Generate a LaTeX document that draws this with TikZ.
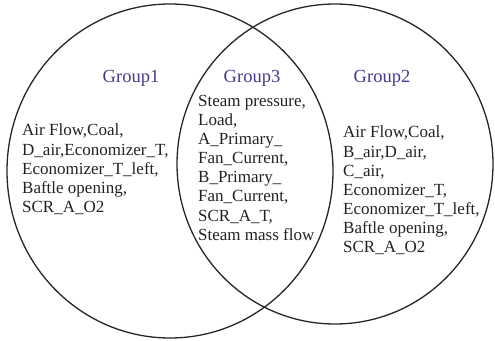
\documentclass[tikz,border=0pt]{standalone}
\usepackage{fontspec}
\setmainfont{Liberation Serif}
\definecolor{grp}{HTML}{4A3890}
\definecolor{txt}{HTML}{222222}
\begin{document}
\begin{tikzpicture}[x=1pt,y=-1pt,
  setline/.style={line width=1.3pt, draw=black!85},
  grouplabel/.style={text=grp, font=\fontsize{18.5}{22}\selectfont, inner sep=0pt},
  itemlist/.style={text=txt, font=\fontsize{17}{19.1}\selectfont, align=left, anchor=north west, inner sep=0pt}]
\useasboundingbox (0,0) rectangle (495,340);
\draw[setline] (170,171) ellipse [x radius=163, y radius=167];
\draw[setline] (335,164) ellipse [x radius=158, y radius=160];
\node[grouplabel] (g1) at (131,78) {Group1};
\node[grouplabel] (g3) at (252,78) {Group3};
\node[grouplabel] (g2) at (382,78) {Group2};
\node[itemlist] (l1) at (22,124) {Air Flow,Coal,\\D\_air,Economizer\_T,\\Economizer\_T\_left,\\Baftle opening,\\SCR\_A\_O2};
\node[itemlist] (l3) at (198,95) {Steam pressure,\\Load,\\A\_Primary\_\\Fan\_Current,\\B\_Primary\_\\Fan\_Current,\\SCR\_A\_T,\\Steam mass flow};
\node[itemlist] (l2) at (343,126) {Air Flow,Coal,\\B\_air,D\_air,\\C\_air,\\Economizer\_T,\\Economizer\_T\_left,\\Baftle opening,\\SCR\_A\_O2};
\end{tikzpicture}
\end{document}
